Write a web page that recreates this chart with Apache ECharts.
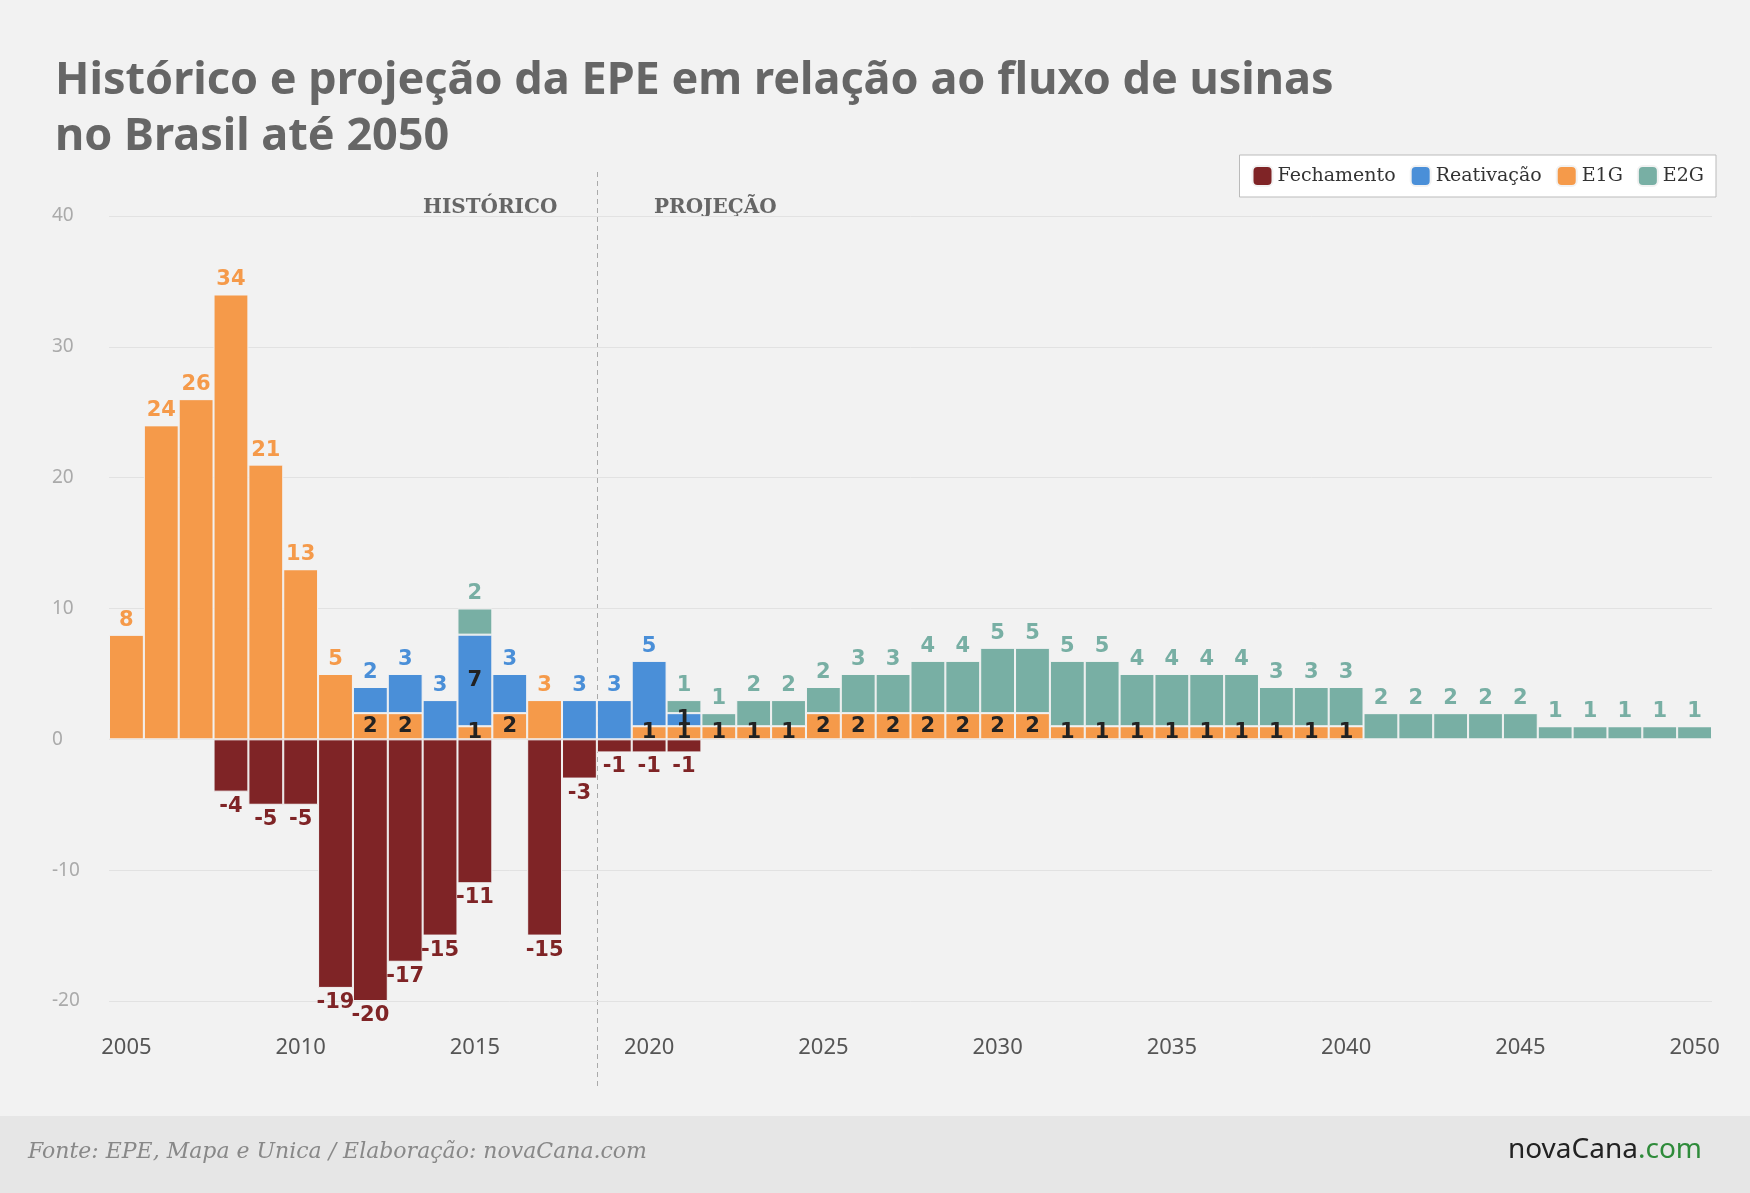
<!DOCTYPE html>
<html>
<head>
<meta charset="utf-8">
<script src="https://cdn.jsdelivr.net/npm/echarts@6/dist/echarts.min.js"></script>
<style>
html, body { margin: 0; padding: 0; background: #f2f2f2; }
#chart { width: 1750px; height: 1193px; }
</style>
</head>
<body>
<div id="chart"></div>
<script>
var years = [];
for (var y = 2005; y <= 2050; y++) years.push(String(y));

var e1g = [8, 24, 26, 34, 21, 13, 5, 2, 2, 0, 1, 2, 3, 0, 0, 1, 1, 1, 1, 1,
	2, 2, 2, 2, 2, 2, 2, 1, 1, 1, 1, 1, 1, 1, 1, 1, 0, 0, 0, 0, 0, 0, 0, 0, 0, 0];
var reativacao = [0, 0, 0, 0, 0, 0, 0, 2, 3, 3, 7, 3, 0, 3, 3, 5, 1, 0, 0, 0,
	0, 0, 0, 0, 0, 0, 0, 0, 0, 0, 0, 0, 0, 0, 0, 0, 0, 0, 0, 0, 0, 0, 0, 0, 0, 0];
var e2g = [0, 0, 0, 0, 0, 0, 0, 0, 0, 0, 2, 0, 0, 0, 0, 0, 1, 1, 2, 2,
	2, 3, 3, 4, 4, 5, 5, 5, 5, 4, 4, 4, 4, 3, 3, 3, 2, 2, 2, 2, 2, 1, 1, 1, 1, 1];
var fechamento = [0, 0, 0, -4, -5, -5, -19, -20, -17, -15, -11, 0, -15, -3, -1, -1, -1, 0, 0, 0,
	0, 0, 0, 0, 0, 0, 0, 0, 0, 0, 0, 0, 0, 0, 0, 0, 0, 0, 0, 0, 0, 0, 0, 0, 0, 0];

var colors = { fech: '#7f2426', reat: '#4a8fd8', e1g: '#f59a4a', e2g: '#78afa4' };
var labelFont = { fontFamily: 'DejaVu Sans', fontSize: 21, fontWeight: 'bold' };

// label inside (dark) when something is stacked above, otherwise on top in series colour
function buildData(values, above, color) {
	return values.map(function(v, i) {
		var covered = above.some(function(a) { return a[i] > 0; });
		var lab = v === 0 ? { show: false } :
			covered ? Object.assign({ show: true, position: 'inside', color: '#222' }, labelFont) :
			Object.assign({ show: true, position: 'top', color: color, distance: 4 }, labelFont);
		return { value: v, label: lab };
	});
}

var barStyle = { borderColor: '#f2f2f2', borderWidth: 1 };

var chart = echarts.init(document.getElementById('chart'));
chart.setOption({
	backgroundColor: '#f2f2f2',
	animation: false,
	textStyle: { fontFamily: 'Noto Sans' },
	title: {
		text: 'Histórico e projeção da EPE em relação ao fluxo de usinas\nno Brasil até 2050',
		left: 50, top: 48,
		textStyle: { fontFamily: 'Noto Sans', fontSize: 45, fontWeight: 'bold', color: '#666', lineHeight: 56 }
	},
	legend: {
		right: 34, top: 155,
		backgroundColor: '#fff', borderColor: '#bbb', borderWidth: 1, padding: [10, 12],
		itemWidth: 20, itemHeight: 20, itemGap: 14,
		textStyle: { fontFamily: 'DejaVu Serif', fontSize: 19, color: '#333' },
		data: ['Fechamento', 'Reativação', 'E1G', 'E2G']
	},
	grid: { left: 109, right: 38, top: 216, bottom: 192 },
	xAxis: {
		type: 'category', data: years,
		axisLine: { show: false }, axisTick: { show: false },
		axisLabel: { interval: 4, color: '#555', fontSize: 22, margin: 36 }
	},
	yAxis: {
		type: 'value', min: -20, max: 40, interval: 10,
		splitLine: { lineStyle: { color: '#e2e2e2' } },
		axisLabel: { color: '#aaa', fontSize: 19, align: 'left', margin: 57 }
	},
	graphic: [
		{ id: 'footer', type: 'rect', left: 0, top: 1116, shape: { width: 1750, height: 77 }, style: { fill: '#e6e6e6' } },
		{ id: 'fonte', type: 'text', left: 28, top: 1141, style: { text: 'Fonte: EPE, Mapa e Unica / Elaboração: novaCana.com', fontFamily: 'DejaVu Serif', fontStyle: 'italic', fontSize: 22, fill: '#888' } },
		{ id: 'logo', type: 'text', right: 48, top: 1136, style: { rich: { a: { fontSize: 28, fill: '#222', fontFamily: 'Noto Sans' }, b: { fontSize: 28, fill: '#2e8b3a', fontFamily: 'Noto Sans' } }, text: '{a|novaCana}{b|.com}' } },
		{ id: 'hist', type: 'text', left: 423, top: 198, style: { text: 'HISTÓRICO', fontFamily: 'DejaVu Serif', fontWeight: 'bold', fontSize: 20, fill: '#666' } },
		{ id: 'proj', type: 'text', left: 654, top: 198, style: { text: 'PROJEÇÃO', fontFamily: 'DejaVu Serif', fontWeight: 'bold', fontSize: 20, fill: '#666' } }
	],
	series: [
		{
			name: 'E1G', type: 'bar', stack: 'all', barCategoryGap: '0%',
			itemStyle: Object.assign({ color: colors.e1g }, barStyle),
			data: buildData(e1g, [reativacao, e2g], colors.e1g)
		},
		{
			name: 'Reativação', type: 'bar', stack: 'all', barCategoryGap: '0%',
			itemStyle: Object.assign({ color: colors.reat }, barStyle),
			data: buildData(reativacao, [e2g], colors.reat)
		},
		{
			name: 'E2G', type: 'bar', stack: 'all', barCategoryGap: '0%',
			itemStyle: Object.assign({ color: colors.e2g }, barStyle),
			data: buildData(e2g, [], colors.e2g)
		},
		{
			name: 'Fechamento', type: 'bar', stack: 'all', barCategoryGap: '0%',
			itemStyle: Object.assign({ color: colors.fech }, barStyle),
			label: Object.assign({
				show: true, position: 'bottom', color: colors.fech, distance: 4,
				formatter: function(p) { return p.value === 0 ? '' : p.value; }
			}, labelFont),
			data: fechamento
		}
	]
});

// dashed divider between 2018 and 2019
var xa = chart.convertToPixel({ xAxisIndex: 0 }, '2018');
var xb = chart.convertToPixel({ xAxisIndex: 0 }, '2019');
var xm = Math.round((xa + xb) / 2) + 0.5;
chart.setOption({
	graphic: [{
		id: 'divider', type: 'line', shape: { x1: xm, y1: 172, x2: xm, y2: 1090 },
		style: { stroke: '#aaa', lineWidth: 1, lineDash: [5, 4] }
	}]
});
</script>
</body>
</html>
